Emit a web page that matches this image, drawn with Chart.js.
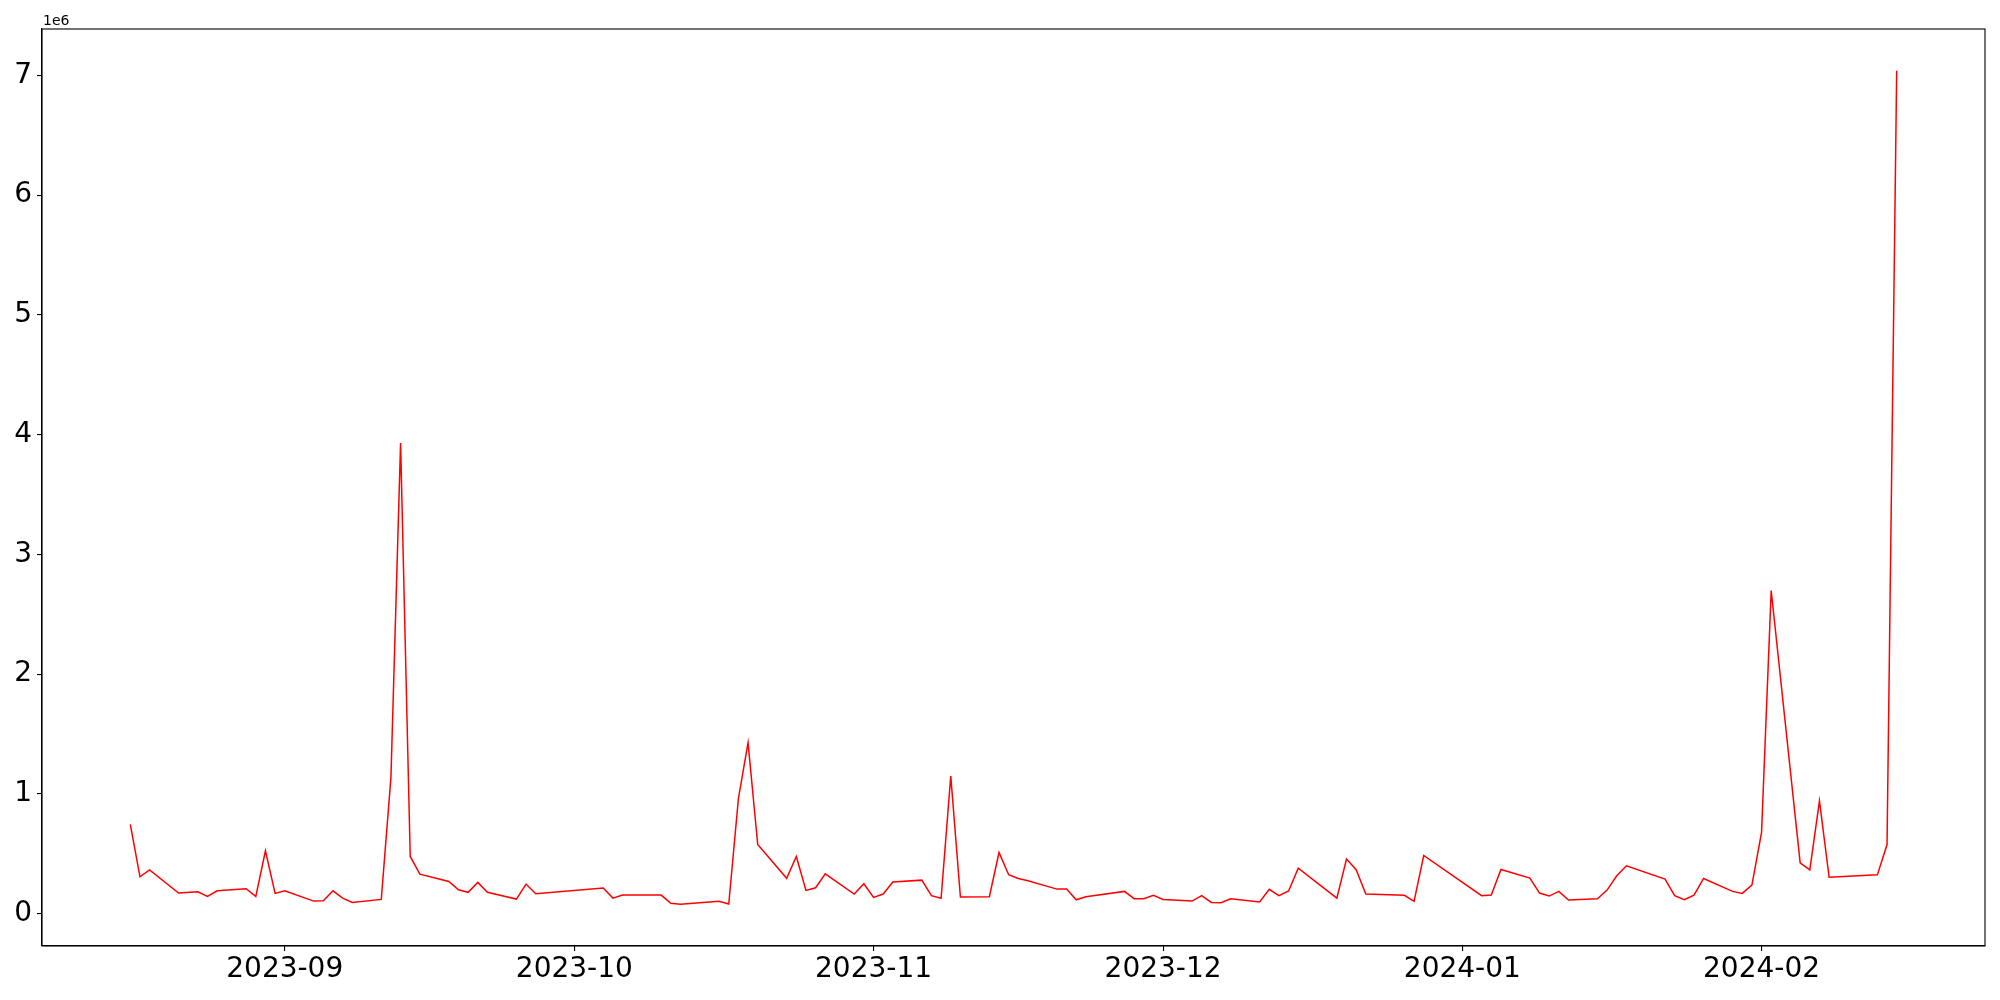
<!DOCTYPE html>
<html>
<head>
<meta charset="utf-8">
<script src="https://cdn.jsdelivr.net/npm/chart.js"></script>
<style>
  html, body { margin: 0; padding: 0; background: #fff; }
  #wrap { width: 2000px; height: 1000px; }
</style>
</head>
<body>
<div id="wrap"><canvas id="volChart" width="2000" height="1000"></canvas></div>
<script>
// trading days shown on the chart
const dates = [
  '2023-08-16','2023-08-17','2023-08-18','2023-08-21','2023-08-23','2023-08-24','2023-08-25',
  '2023-08-28','2023-08-29','2023-08-30','2023-08-31','2023-09-01','2023-09-04','2023-09-05',
  '2023-09-06','2023-09-07','2023-09-08','2023-09-11','2023-09-12','2023-09-13','2023-09-14',
  '2023-09-15','2023-09-18','2023-09-19','2023-09-20','2023-09-21','2023-09-22','2023-09-25',
  '2023-09-26','2023-09-27','2023-10-04','2023-10-05','2023-10-06','2023-10-10','2023-10-11',
  '2023-10-12','2023-10-16','2023-10-17','2023-10-18','2023-10-19','2023-10-20','2023-10-23',
  '2023-10-24','2023-10-25','2023-10-26','2023-10-27','2023-10-30','2023-10-31','2023-11-01',
  '2023-11-02','2023-11-03','2023-11-06','2023-11-07','2023-11-08','2023-11-09','2023-11-10',
  '2023-11-13','2023-11-14','2023-11-15','2023-11-16','2023-11-17','2023-11-20','2023-11-21',
  '2023-11-22','2023-11-23','2023-11-27','2023-11-28','2023-11-29','2023-11-30','2023-12-01',
  '2023-12-04','2023-12-05','2023-12-06','2023-12-07','2023-12-08','2023-12-11','2023-12-12',
  '2023-12-13','2023-12-14','2023-12-15','2023-12-19','2023-12-20','2023-12-21','2023-12-22',
  '2023-12-26','2023-12-27','2023-12-28','2024-01-03','2024-01-04','2024-01-05','2024-01-08',
  '2024-01-09','2024-01-10','2024-01-11','2024-01-12','2024-01-15','2024-01-16','2024-01-17',
  '2024-01-18','2024-01-22','2024-01-23','2024-01-24','2024-01-25','2024-01-26','2024-01-29',
  '2024-01-30','2024-01-31','2024-02-01','2024-02-02','2024-02-05','2024-02-06','2024-02-07',
  '2024-02-08','2024-02-13','2024-02-14','2024-02-15'
];

// values in units of 1e6
const values = [
  0.744, 0.307, 0.365, 0.171, 0.182, 0.143, 0.190,
  0.207, 0.143, 0.524, 0.168, 0.190, 0.104, 0.107,
  0.190, 0.129, 0.093, 0.118, 1.136, 3.930, 0.477,
  0.329, 0.268, 0.199, 0.177, 0.260, 0.177, 0.121,
  0.246, 0.165, 0.213, 0.129, 0.154, 0.154, 0.085,
  0.077, 0.102, 0.079, 0.961, 1.428, 0.577, 0.294,
  0.477, 0.193, 0.215, 0.332, 0.163, 0.249, 0.135,
  0.163, 0.263, 0.279, 0.149, 0.127, 1.149, 0.138,
  0.140, 0.510, 0.324, 0.293, 0.274, 0.204, 0.204,
  0.115, 0.140, 0.185, 0.124, 0.124, 0.152, 0.118,
  0.104, 0.149, 0.093, 0.090, 0.124, 0.096, 0.202,
  0.149, 0.188, 0.379, 0.129, 0.455, 0.366, 0.163,
  0.152, 0.102, 0.485, 0.149, 0.154, 0.368, 0.296,
  0.171, 0.146, 0.185, 0.113, 0.124, 0.196, 0.315,
  0.399, 0.288, 0.149, 0.115, 0.154, 0.293, 0.185,
  0.168, 0.238, 0.677, 2.698, 0.424, 0.364, 0.940,
  0.303, 0.323, 0.576, 7.040
];

const monthTicks = ['2023-09', '2023-10', '2023-11', '2023-12', '2024-01', '2024-02'];
const yTicks = [0, 1, 2, 3, 4, 5, 6, 7];
const offsetText = '1e6';

function toDay(s) {
  const p = s.split('-').map(Number);
  return Date.UTC(p[0], p[1] - 1, p[2] || 1) / 86400000;
}

document.addEventListener("DOMContentLoaded", function () {
  const ctx = document.getElementById('volChart').getContext('2d');

  const points = dates.map((d, i) => ({ x: toDay(d), y: values[i] }));
  const xs = points.map(p => p.x);
  const xMin = Math.min(...xs), xMax = Math.max(...xs);
  const yMin = Math.min(...values), yMax = Math.max(...values);
  const xPad = (xMax - xMin) * 0.05, yPad = (yMax - yMin) * 0.05;

  const monthPos = {};
  monthTicks.forEach(m => { monthPos[toDay(m)] = m; });

  const font = { family: 'DejaVu Sans', size: 28 };

  // top/right spines and the offset text, matplotlib style
  const framePlugin = {
    id: 'frame',
    afterDraw(chart) {
      const a = chart.chartArea;
      const c = chart.ctx;
      c.save();
      c.strokeStyle = '#000';
      c.lineWidth = 1.1;
      c.strokeRect(a.left, a.top, a.right - a.left, a.bottom - a.top);
      c.fillStyle = '#000';
      c.font = '14px "DejaVu Sans"';
      c.textBaseline = 'alphabetic';
      c.textAlign = 'left';
      c.fillText(offsetText, a.left + 1, a.top - 4);
      c.restore();
    }
  };

  new Chart(ctx, {
    type: 'line',
    data: {
      datasets: [{
        data: points,
        borderColor: '#ff0000',
        borderWidth: 1.5,
        pointRadius: 0,
        tension: 0,
        fill: false
      }]
    },
    options: {
      responsive: false,
      animation: false,
      layout: { padding: { top: 29, right: 15, left: 0, bottom: 0 } },
      plugins: { legend: { display: false }, tooltip: { enabled: false } },
      scales: {
        x: {
          type: 'linear',
          min: xMin - xPad,
          max: xMax + xPad,
          afterBuildTicks: s => { s.ticks = monthTicks.map(m => ({ value: toDay(m) })); },
          afterFit: s => { s.height = 54; },
          ticks: {
            color: '#000',
            font: font,
            padding: 2,
            maxRotation: 0,
            autoSkip: false,
            callback: v => monthPos[v] || ''
          },
          grid: { drawOnChartArea: false, tickLength: 5, color: '#000', lineWidth: 1.1 },
          border: { color: '#000', width: 1.1 }
        },
        y: {
          min: yMin - yPad,
          max: yMax + yPad,
          afterBuildTicks: s => { s.ticks = yTicks.map(v => ({ value: v })); },
          afterFit: s => { s.width = 42; },
          ticks: {
            color: '#000',
            font: font,
            padding: 5,
            callback: v => String(v)
          },
          grid: { drawOnChartArea: false, tickLength: 5, color: '#000', lineWidth: 1.1 },
          border: { color: '#000', width: 1.1 }
        }
      }
    },
    plugins: [framePlugin]
  });
});
</script>
</body>
</html>
